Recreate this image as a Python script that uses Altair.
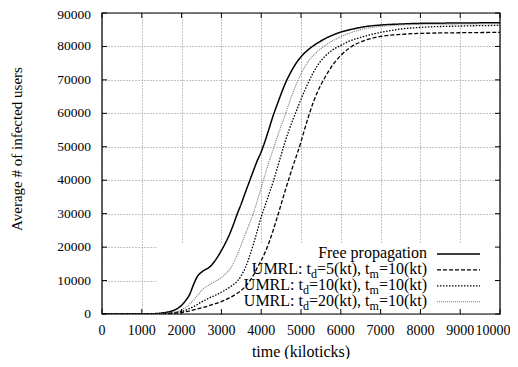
import altair as alt
import pandas as pd

# ---------------- data ----------------
series_names = [
    "Free propagation",
    "UMRL: td=5(kt), tm=10(kt)",
    "UMRL: td=10(kt), tm=10(kt)",
    "UMRL: td=20(kt), tm=10(kt)",
]

free_t = [0, 1000, 1300, 1500, 1700, 1900, 2000, 2100, 2200, 2300, 2400, 2500, 2600, 2700,
          2800, 2900, 3000, 3100, 3200, 3300, 3400, 3500, 3600, 3700, 3800, 3900, 4000,
          4100, 4200, 4300, 4400, 4500, 4600, 4700, 4800, 4900, 5000, 5200, 5400, 5600,
          5800, 6000, 6300, 6600, 7000, 7500, 8000, 9000, 10000]
free_v = [0, 0, 100, 300, 700, 1700, 2600, 4000, 5800, 8800, 11300, 12500, 13300, 14000,
          15300, 17000, 19000, 21200, 23700, 26700, 30000, 33000, 36300, 39500, 42700, 45800, 48500,
          51800, 55500, 59300, 62600, 65800, 68800, 71300, 73500, 75400, 76900, 79200, 80900, 82300,
          83400, 84300, 85200, 85900, 86400, 86700, 86900, 87000, 87100]

td5_t = [0, 1000, 1500, 2000, 2400, 2800, 3000, 3200, 3400, 3600, 3800, 3900, 4000, 4100,
         4200, 4300, 4400, 4500, 4600, 4700, 4800, 4900, 5000, 5100, 5200, 5300, 5400, 5500,
         5600, 5700, 5800, 6000, 6200, 6400, 6700, 7000, 7500, 8000, 9000, 10000]
td5_v = [0, 0, 100, 500, 1500, 2900, 3700, 4800, 6200, 8200, 11500, 13800, 16000, 18500,
         21500, 25000, 28800, 32800, 36800, 40600, 44300, 47800, 51500, 55600, 59500, 63000, 66000, 68500,
         70700, 72700, 74500, 77300, 79400, 80800, 82200, 83000, 83600, 83900, 84100, 84200]

td10_t = [0, 1000, 1400, 1700, 2000, 2300, 2500, 2700, 2900, 3100, 3300, 3400, 3500, 3600,
          3700, 3800, 3900, 4000, 4100, 4200, 4300, 4400, 4500, 4600, 4700, 4800, 4900, 5000,
          5100, 5200, 5300, 5400, 5500, 5600, 5800, 6000, 6200, 6500, 7000, 7500, 8000, 9000, 10000]
td10_v = [0, 0, 100, 300, 800, 2200, 3600, 4800, 5900, 7200, 8800, 9800, 11500, 13800,
          17000, 20700, 24800, 29000, 32500, 36000, 39500, 43500, 47500, 51500, 55000, 58200, 61200, 64200,
          67000, 69600, 72000, 74000, 75700, 77000, 79000, 80300, 81500, 82700, 84200, 85200, 85700, 86100, 86300]

td20_t = [0, 1000, 1400, 1700, 2000, 2200, 2400, 2500, 2600, 2700, 2800, 2900, 3000, 3100,
          3200, 3300, 3400, 3500, 3600, 3700, 3800, 3900, 4000, 4100, 4200, 4300, 4400, 4500,
          4600, 4700, 4800, 4900, 5000, 5100, 5200, 5300, 5400, 5600, 5800, 6000, 6300, 6600,
          7000, 7500, 8000, 9000, 10000]
td20_v = [0, 0, 100, 400, 1200, 2900, 5600, 7000, 8000, 8800, 9500, 10100, 10900, 11900,
          13200, 15200, 17800, 20800, 23800, 26900, 30000, 33800, 37800, 41800, 45600, 49200, 52800, 56200,
          59400, 63000, 66200, 69200, 71800, 74000, 75800, 77200, 78400, 80200, 81700, 82900, 84300, 85300,
          86000, 86400, 86600, 86700, 86800]

x_ticks = [0, 1000, 2000, 3000, 4000, 5000, 6000, 7000, 8000, 9000, 10000]
y_ticks = [0, 10000, 20000, 30000, 40000, 50000, 60000, 70000, 80000, 90000]

x_title = "time (kiloticks)"
y_title = "Average # of infected users"

# ---------------- build tables ----------------
rows = []
for name, ts, vs in zip(series_names, [free_t, td5_t, td10_t, td20_t], [free_v, td5_v, td10_v, td20_v]):
    for t, v in zip(ts, vs):
        rows.append({"series": name, "t": t, "v": v})
df = pd.DataFrame(rows)
xt = pd.DataFrame({"t": x_ticks, "label": [str(v) for v in x_ticks]})
yt = pd.DataFrame({"v": y_ticks, "label": [str(v) for v in y_ticks]})
dummy = pd.DataFrame({"a": [0]})

# ---------------- styling ----------------
W, H = 398, 301
FONT = "Liberation Serif"
XTICK_FS = 14
YTICK_FS = 13.5
XTITLE_FS = 16
YTITLE_FS = 15
LEG_FS = 16
SUB_FS = 12
TICK_LEN = 5

styles = {
    series_names[0]: dict(color="black", strokeDash=[1, 0], strokeWidth=1.5),
    series_names[1]: dict(color="black", strokeDash=[4, 2], strokeWidth=1.3),
    series_names[2]: dict(color="black", strokeDash=[1.5, 1.5], strokeWidth=1.3),
    series_names[3]: dict(color="#777777", strokeDash=[1, 1], strokeWidth=1.1),
}

xscale = alt.Scale(domain=[0, 10000], nice=False, zero=False)
yscale = alt.Scale(domain=[0, 90000], nice=False)

xaxis = alt.Axis(values=x_ticks, grid=True, gridDash=[1, 2], gridColor="#888888", gridWidth=1,
                 ticks=False, domain=False, labels=False, title=None)
yaxis = alt.Axis(values=y_ticks, grid=True, gridDash=[1, 2], gridColor="#888888", gridWidth=1,
                 ticks=False, domain=False, labels=False, title=None)

X = lambda f="t:Q": alt.X(f, scale=xscale, axis=xaxis)
Y = lambda f="v:Q": alt.Y(f, scale=yscale, axis=yaxis)

# white box behind the key (hides the grid there)
key_box = alt.Chart(dummy).mark_rect(color="white").encode(
    x=alt.datum(1380, scale=xscale, axis=xaxis), x2=alt.datum(10000),
    y=alt.datum(0, scale=yscale, axis=yaxis), y2=alt.datum(21000),
)

lines = []
for name in series_names:
    st = styles[name]
    lines.append(
        alt.Chart(df).transform_filter(alt.datum.series == name).mark_line(
            color=st["color"], strokeDash=st["strokeDash"], strokeWidth=st["strokeWidth"],
            clip=True, interpolate="monotone",
        ).encode(x=X(), y=Y(), order="t:Q")
    )

tick_style = dict(color="black", strokeWidth=1)
ticks_bottom = alt.Chart(xt).mark_rule(**tick_style).encode(
    x=X(), y=alt.value(H), y2=alt.value(H - TICK_LEN))
ticks_top = alt.Chart(xt).mark_rule(**tick_style).encode(
    x=X(), y=alt.value(0), y2=alt.value(TICK_LEN))
ticks_left = alt.Chart(yt).mark_rule(**tick_style).encode(
    y=Y(), x=alt.value(0), x2=alt.value(TICK_LEN))
ticks_right = alt.Chart(yt).mark_rule(**tick_style).encode(
    y=Y(), x=alt.value(W), x2=alt.value(W - TICK_LEN))

border = alt.Chart(dummy).mark_rect(fill=None, stroke="black", strokeWidth=1.2).encode(
    x=alt.value(0), x2=alt.value(W), y=alt.value(0), y2=alt.value(H))

# tick labels (serif text marks); last x label / top y label nudged to stay on the page
x_labels = alt.Chart(xt).transform_filter(alt.datum.t < 10000).mark_text(
    font=FONT, fontSize=XTICK_FS, color="black", baseline="middle", align="center").encode(
    x=X(), y=alt.value(H + 17), text="label:N")
x_label_last = alt.Chart(xt).transform_filter(alt.datum.t == 10000).mark_text(
    font=FONT, fontSize=XTICK_FS, color="black", baseline="middle", align="center", dx=-7).encode(
    x=X(), y=alt.value(H + 17), text="label:N")
y_labels = alt.Chart(yt).transform_filter(alt.datum.v < 90000).mark_text(
    font=FONT, fontSize=YTICK_FS, color="black", baseline="middle", align="right").encode(
    y=Y(), x=alt.value(-11), text="label:N")
y_label_top = alt.Chart(yt).transform_filter(alt.datum.v == 90000).mark_text(
    font=FONT, fontSize=YTICK_FS, color="black", baseline="middle", align="right", dy=2).encode(
    y=Y(), x=alt.value(-11), text="label:N")
x_title_mark = alt.Chart(dummy).mark_text(font=FONT, fontSize=XTITLE_FS, color="black",
                                          baseline="middle", align="center").encode(
    x=alt.value(W / 2), y=alt.value(H + 38), text=alt.value(x_title))
y_title_mark = alt.Chart(dummy).mark_text(font=FONT, fontSize=YTITLE_FS, color="black",
                                          baseline="middle", align="center", angle=270).encode(
    x=alt.value(-85), y=alt.value(136), text=alt.value(y_title))

# ---------------- key (legend) ----------------
TIMES_W = {" ": 250, "#": 500, "(": 333, ")": 333, ",": 250, ":": 278, "=": 564,
           "F": 556, "L": 611, "M": 889, "R": 667, "U": 722, "a": 444, "d": 500,
           "e": 444, "g": 500, "i": 278, "k": 500, "m": 778, "n": 500, "o": 500,
           "p": 500, "r": 333, "t": 278}
for dgt in "0123456789":
    TIMES_W[dgt] = 500


def text_width(s, size):
    return sum(TIMES_W.get(c, 500) for c in s) / 1000.0 * size


def key_pieces(name):
    if name.startswith("UMRL"):
        td = name.split("td=")[1].split(",")[0]
        tm = name.split("tm=")[1]
        return [("UMRL: t", False), ("d", True), ("=" + td + ", t", False), ("m", True), ("=" + tm, False)]
    return [(name, False)]


KEY_TEXT_RIGHT = 325
KEY_X1, KEY_X2 = 335, 378
KEY_Y0, KEY_DY = 241, 15.9

key_layers = []
for i, name in enumerate(series_names):
    st = styles[name]
    yrow = KEY_Y0 + i * KEY_DY
    key_layers.append(
        alt.Chart(dummy).mark_rule(color=st["color"], strokeDash=st["strokeDash"],
                                   strokeWidth=st["strokeWidth"]).encode(
            x=alt.value(KEY_X1), x2=alt.value(KEY_X2), y=alt.value(yrow))
    )
    xr = KEY_TEXT_RIGHT
    for piece, sub in reversed(key_pieces(name)):
        fs = SUB_FS if sub else LEG_FS
        key_layers.append(
            alt.Chart(dummy).mark_text(align="right", baseline="middle", font=FONT,
                                       fontSize=fs, color="black").encode(
                x=alt.value(xr), y=alt.value(yrow - 1 + (5 if sub else 0)),
                text=alt.value(piece))
        )
        xr -= text_width(piece, fs)

chart = alt.layer(
    key_box, *lines,
    ticks_bottom, ticks_top, ticks_left, ticks_right, border,
    x_labels, x_label_last, y_labels, y_label_top, x_title_mark, y_title_mark, *key_layers
).properties(
    width=W, height=H,
    autosize=alt.AutoSizeParams(type="none"),
    padding={"left": 94, "top": 5, "right": 10, "bottom": 45},
    background="white",
).configure_view(stroke=None)

chart.save("out.html", embed_options={"renderer": "svg", "actions": False})
